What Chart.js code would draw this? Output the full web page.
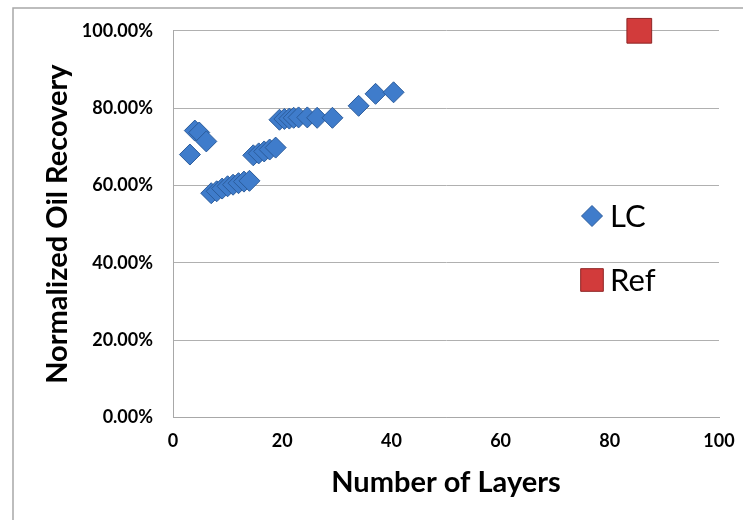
<!DOCTYPE html>
<html>
<head>
<meta charset="utf-8">
<script src="https://cdn.jsdelivr.net/npm/chart.js@4/dist/chart.umd.min.js"></script>
<style>
html,body{margin:0;padding:0;background:#fff;}
#wrap{position:absolute;left:0;top:0;width:743px;height:520px;}
</style>
</head>
<body>
<div id="wrap"><canvas id="c" width="743" height="520"></canvas></div>
<script>
// Data
const lcLayers   = [3.1, 4.0, 4.8, 6.1, 7, 8, 9, 10, 11, 12, 13, 14, 14.7, 15.7, 16.7, 17.7, 18.8, 19.5, 20.4, 21.3, 22.1, 23.0, 24.6, 26.4, 29.2, 34.0, 37.1, 40.4];
const lcRecovery = [68.0, 74.2, 73.7, 71.4, 58.0, 58.5, 59.2, 59.8, 60.2, 60.6, 61.0, 61.2, 67.8, 68.3, 68.8, 69.3, 69.8, 77.0, 77.2, 77.3, 77.5, 77.6, 77.6, 77.5, 77.5, 80.6, 83.7, 84.1];
const refLayers   = [85.4];
const refRecovery = [100];
const seriesNames = ['LC', 'Ref'];
const xTitle = 'Number of Layers';
const yTitle = 'Normalized Oil Recovery';

const toPts = (xs, ys) => xs.map((x, i) => ({x: x, y: ys[i]}));

const blue = '#3f7ccb', blueBorder = '#2b5c9c';
const red = '#d23b3b', redBorder = '#8e2424';
const FONT = 'Lato, "Liberation Sans", sans-serif';

const framePlugin = {
  id: 'frame',
  beforeDraw(chart) {
    const ctx = chart.ctx;
    ctx.save();
    ctx.fillStyle = '#fff';
    ctx.fillRect(0, 0, chart.width, chart.height);
    ctx.strokeStyle = '#a8a8a8';
    ctx.lineWidth = 1.5;
    ctx.beginPath();
    ctx.moveTo(13, chart.height);
    ctx.lineTo(13, 8);
    ctx.lineTo(chart.width, 8);
    ctx.stroke();
    ctx.restore();
  }
};

const legendPlugin = {
  id: 'customLegend',
  afterDraw(chart) {
    const ctx = chart.ctx;
    const items = [
      {label: chart.data.datasets[0].label, style: 'rectRot', r: 10.5, fill: blue, stroke: blueBorder, x: 592, y: 216},
      {label: chart.data.datasets[1].label, style: 'rect', r: 16, fill: red, stroke: redBorder, x: 592, y: 280}
    ];
    ctx.save();
    items.forEach(it => {
      ctx.fillStyle = it.fill;
      ctx.strokeStyle = it.stroke;
      ctx.lineWidth = 1;
      Chart.helpers.drawPoint(ctx, {pointStyle: it.style, radius: it.r, borderWidth: 1, rotation: 0}, it.x, it.y);
      ctx.fillStyle = '#000';
      ctx.font = '31px ' + FONT;
      ctx.textBaseline = 'middle';
      ctx.textAlign = 'left';
      ctx.fillText(it.label, 610, it.y + 1);
    });
    ctx.restore();
  }
};

new Chart(document.getElementById('c'), {
  type: 'scatter',
  data: {
    datasets: [
      {
        label: seriesNames[0],
        data: toPts(lcLayers, lcRecovery),
        pointStyle: 'rectRot',
        pointRadius: 10.5,
        pointHoverRadius: 10.5,
        backgroundColor: blue,
        borderColor: blueBorder,
        borderWidth: 1,
        clip: false
      },
      {
        label: seriesNames[1],
        data: toPts(refLayers, refRecovery),
        pointStyle: 'rect',
        pointRadius: 17.5,
        pointHoverRadius: 17.5,
        backgroundColor: red,
        borderColor: redBorder,
        borderWidth: 1,
        clip: false
      }
    ]
  },
  options: {
    responsive: false,
    animation: false,
    events: [],
    layout: {padding: {top: 30, right: 24, left: 0, bottom: 0}},
    plugins: {
      legend: {display: false},
      tooltip: {enabled: false}
    },
    scales: {
      x: {
        type: 'linear',
        min: 0, max: 100,
        ticks: {
          stepSize: 20,
          padding: 13,
          color: '#000',
          font: {family: FONT, size: 18, weight: 'bold'}
        },
        grid: {display: false, drawTicks: false},
        border: {display: true, color: '#a8a8a8', width: 1},
        title: {
          display: true,
          text: xTitle,
          color: '#000',
          padding: {top: 0, bottom: 20},
          font: {family: FONT, size: 29, weight: 'bold'}
        },
        afterFit(scale) { scale.height = 102.5; scale.paddingRight = 0; scale.paddingLeft = 0; }
      },
      y: {
        type: 'linear',
        min: 0, max: 100,
        ticks: {
          stepSize: 20,
          padding: 20,
          color: '#000',
          callback: v => v.toFixed(2) + '%',
          font: {family: FONT, size: 18, weight: 'bold'}
        },
        grid: {color: '#b0b0b0', lineWidth: 1, drawTicks: false},
        border: {display: true, color: '#a8a8a8', width: 1},
        title: {
          display: true,
          text: yTitle,
          color: '#000',
          padding: {top: 40, bottom: 0},
          font: {family: FONT, size: 29, weight: 'bold'}
        },
        afterFit(scale) { scale.width = 173; }
      }
    }
  },
  plugins: [framePlugin, legendPlugin]
});
</script>
</body>
</html>
